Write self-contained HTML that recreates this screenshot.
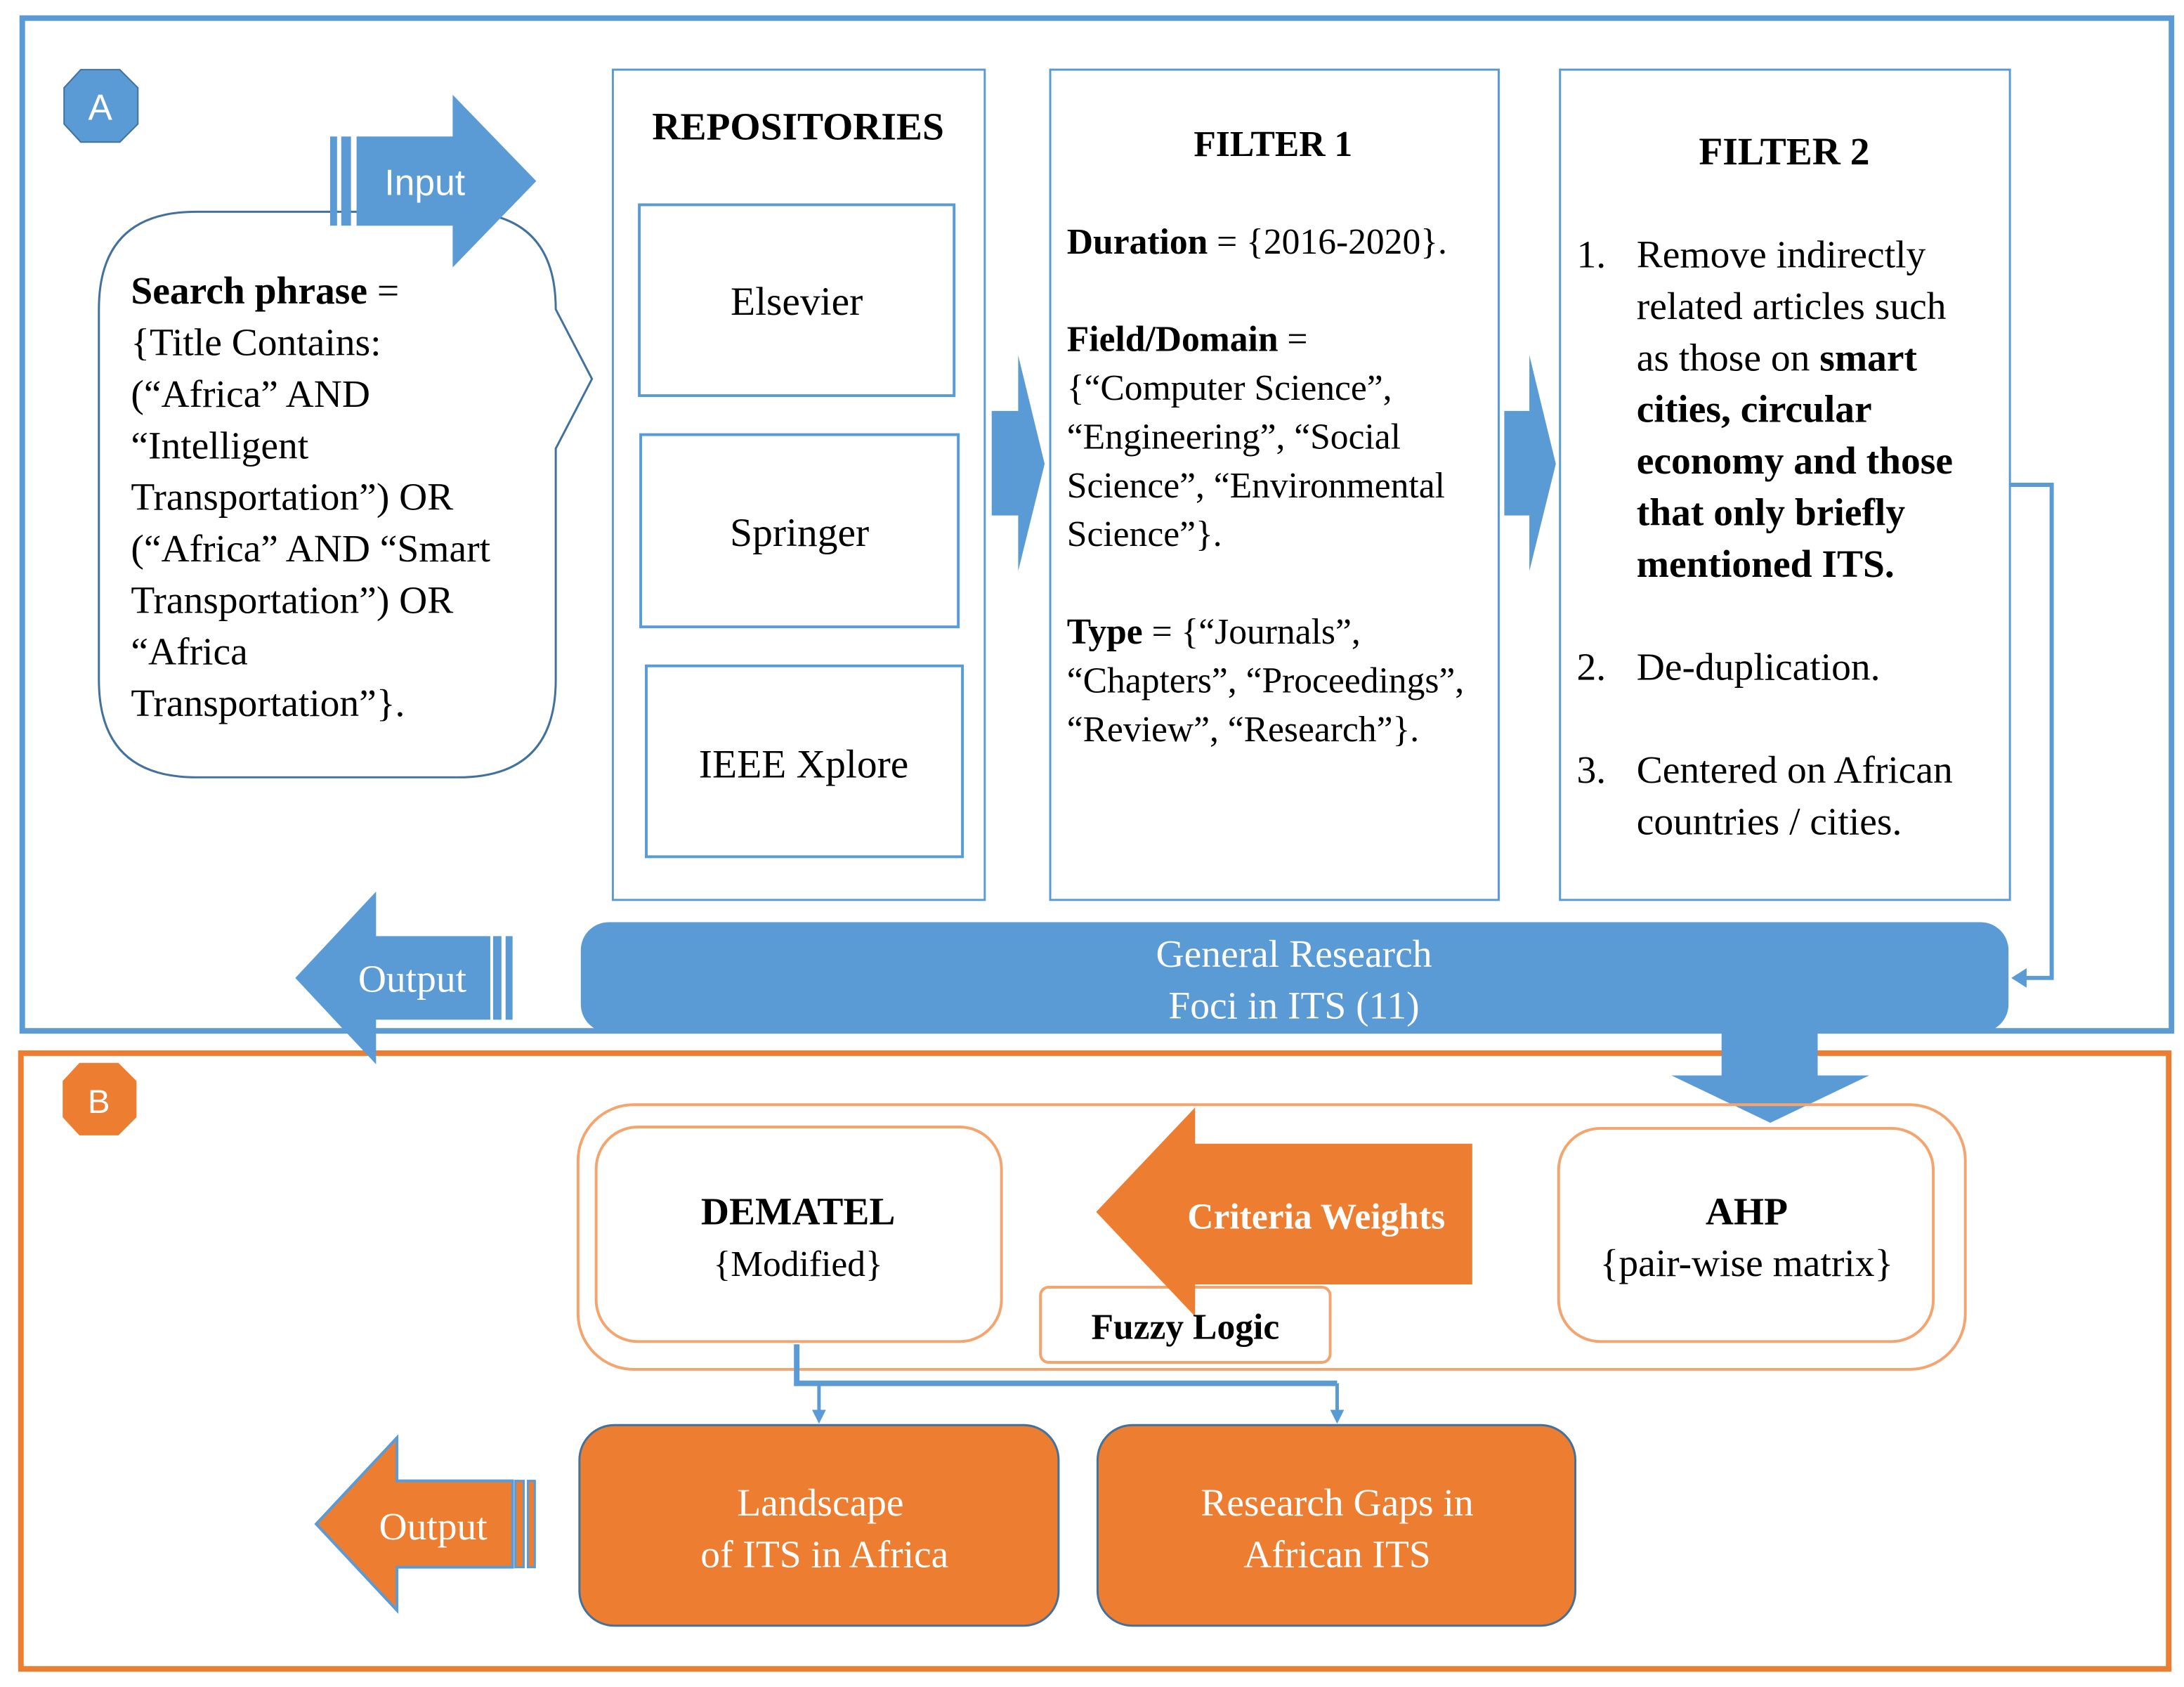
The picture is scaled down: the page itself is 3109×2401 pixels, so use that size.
<!DOCTYPE html>
<html><head><meta charset="utf-8"><style>
html,body{margin:0;padding:0;background:#fff}
svg{display:block}
text{font-family:"Liberation Serif",serif}
</style></head><body>
<svg width="3109" height="2401" viewBox="0 0 1568 1211" preserveAspectRatio="none" xmlns="http://www.w3.org/2000/svg">
<rect width="1568" height="1211" fill="#fff"/>
<!-- outer frames -->
<rect x="16" y="13" width="1543" height="727" fill="none" stroke="#5B9BD5" stroke-width="4"/>
<rect x="15" y="756" width="1542" height="442" fill="none" stroke="#ED7D31" stroke-width="4"/>
<!-- hexagons -->
<polygon points="58,50 86,50 99,63 99,89 86,102 58,102 46,89 46,63" fill="#5B9BD5" stroke="#41719C" stroke-width="1"/>
<text x="72" y="86" text-anchor="middle" font-size="26" fill="#fff" style="font-family:'Liberation Sans',sans-serif">A</text>
<polygon points="57,763 85,763 98,776 98,802 85,815 57,815 45,802 45,776" fill="#ED7D31"/>
<text x="71" y="799" text-anchor="middle" font-size="24" fill="#fff" style="font-family:'Liberation Sans',sans-serif">B</text>

<!-- callout -->
<path d="M141,152 H329 Q399,152 399,222 L425,272 L399,322 V488 Q399,558 329,558 H141 Q71,558 71,488 V222 Q71,152 141,152 Z" fill="#fff" stroke="#41719C" stroke-width="1.5"/>
<g font-size="28" fill="#000">
<text x="94" y="218" font-weight="bold">Search phrase <tspan font-weight="normal">=</tspan></text>
<text x="94" y="255">{Title Contains:</text>
<text x="94" y="292">(“Africa” AND</text>
<text x="94" y="329">“Intelligent</text>
<text x="94" y="366">Transportation”) OR</text>
<text x="94" y="403">(“Africa” AND “Smart</text>
<text x="94" y="440">Transportation”) OR</text>
<text x="94" y="477">“Africa</text>
<text x="94" y="514">Transportation”}.</text>
</g>
<!-- input arrow -->
<rect x="237" y="98" width="5" height="64" fill="#5B9BD5"/>
<rect x="245" y="98" width="7" height="64" fill="#5B9BD5"/>
<polygon points="256,98 325,98 325,68 385,130 325,192 325,162 256,162" fill="#5B9BD5"/>
<text x="305" y="140" text-anchor="middle" font-size="26" fill="#fff" style="font-family:'Liberation Sans',sans-serif">Input</text>

<!-- repositories -->
<rect x="440" y="50" width="267" height="596" fill="#fff" stroke="#5B9BD5" stroke-width="1.5"/>
<text x="573" y="100" text-anchor="middle" font-size="28" font-weight="bold">REPOSITORIES</text>
<rect x="459" y="147" width="226" height="137" fill="#fff" stroke="#5B9BD5" stroke-width="2"/>
<text x="572" y="226" text-anchor="middle" font-size="29">Elsevier</text>
<rect x="460" y="312" width="228" height="138" fill="#fff" stroke="#5B9BD5" stroke-width="2"/>
<text x="574" y="392" text-anchor="middle" font-size="29">Springer</text>
<rect x="464" y="478" width="227" height="137" fill="#fff" stroke="#5B9BD5" stroke-width="2"/>
<text x="577" y="558" text-anchor="middle" font-size="29">IEEE Xplore</text>

<!-- arrow 1 -->
<polygon points="712,295 731,295 731,255 750,333 731,410 731,370 712,370" fill="#5B9BD5"/>
<!-- filter1 -->
<rect x="754" y="50" width="322" height="596" fill="#fff" stroke="#5B9BD5" stroke-width="1.5"/>
<g font-size="26">
<text x="914" y="112" text-anchor="middle" font-weight="bold">FILTER 1</text>
<text x="766" y="182"><tspan font-weight="bold">Duration</tspan> = {2016-2020}.</text>
<text x="766" y="252"><tspan font-weight="bold">Field/Domain</tspan> =</text>
<text x="766" y="287">{“Computer Science”,</text>
<text x="766" y="322">“Engineering”, “Social</text>
<text x="766" y="357">Science”, “Environmental</text>
<text x="766" y="392">Science”}.</text>
<text x="766" y="462"><tspan font-weight="bold">Type</tspan> = {“Journals”,</text>
<text x="766" y="497">“Chapters”, “Proceedings”,</text>
<text x="766" y="532">“Review”, “Research”}.</text>
</g>
<!-- arrow 2 -->
<polygon points="1080,295 1098,295 1098,255 1117,333 1098,410 1098,370 1080,370" fill="#5B9BD5"/>
<!-- filter2 -->
<rect x="1120" y="50" width="323" height="596" fill="#fff" stroke="#5B9BD5" stroke-width="1.5"/>
<g font-size="28">
<text x="1281" y="118" text-anchor="middle" font-weight="bold">FILTER 2</text>
<text x="1132" y="192">1.</text>
<text x="1175" y="192">Remove indirectly</text>
<text x="1175" y="229">related articles such</text>
<text x="1175" y="266">as those on <tspan font-weight="bold">smart</tspan></text>
<text x="1175" y="303" font-weight="bold">cities, circular</text>
<text x="1175" y="340" font-weight="bold">economy and those</text>
<text x="1175" y="377" font-weight="bold">that only briefly</text>
<text x="1175" y="414" font-weight="bold">mentioned ITS.</text>
<text x="1132" y="488">2.</text>
<text x="1175" y="488">De-duplication.</text>
<text x="1132" y="562">3.</text>
<text x="1175" y="562">Centered on African</text>
<text x="1175" y="599">countries / cities.</text>
</g>
<!-- connector -->
<polyline points="1443,348 1473,348 1473,702 1452,702" fill="none" stroke="#5B9BD5" stroke-width="3"/>
<polygon points="1444,702 1455,695 1455,709" fill="#5B9BD5"/>

<!-- banner -->
<rect x="417" y="662" width="1025" height="79" rx="20" fill="#5B9BD5"/>
<text x="929" y="694" text-anchor="middle" font-size="28" fill="#fff">General Research</text>
<text x="929" y="731" text-anchor="middle" font-size="28" fill="#fff">Foci in ITS (11)</text>
<!-- output A -->
<polygon points="212,702 270,640 270,672 352,672 352,732 270,732 270,764" fill="#5B9BD5"/>
<rect x="354" y="672" width="6" height="60" fill="#5B9BD5"/>
<rect x="363" y="672" width="5" height="60" fill="#5B9BD5"/>
<text x="296" y="712" text-anchor="middle" font-size="28" fill="#fff">Output</text>

<!-- down arrow -->
<polygon points="1236,741 1305,741 1305,772 1342,772 1271,806 1200,772 1236,772" fill="#5B9BD5"/>

<!-- orange container -->
<rect x="415" y="793" width="996" height="190" rx="40" fill="none" stroke="#F4A46E" stroke-width="2"/>
<rect x="428" y="809" width="291" height="154" rx="30" fill="#fff" stroke="#F4A46E" stroke-width="2"/>
<text x="573" y="879" text-anchor="middle" font-size="28" font-weight="bold">DEMATEL</text>
<text x="573" y="916" text-anchor="middle" font-size="26">{Modified}</text>
<rect x="1119" y="810" width="269" height="153" rx="30" fill="#fff" stroke="#F4A46E" stroke-width="2"/>
<text x="1254" y="879" text-anchor="middle" font-size="28" font-weight="bold">AHP</text>
<text x="1254" y="916" text-anchor="middle" font-size="28">{pair-wise matrix}</text>
<!-- fuzzy box -->
<rect x="747" y="924" width="208" height="54" rx="6" fill="#fff" stroke="#F4A46E" stroke-width="2"/>
<!-- criteria arrow -->
<polygon points="787,870 858,795 858,821 1057,821 1057,922 858,922 858,945" fill="#ED7D31"/>
<text x="945" y="882" text-anchor="middle" font-size="26" font-weight="bold" fill="#fff">Criteria Weights</text>
<text x="851" y="961" text-anchor="middle" font-size="26" font-weight="bold">Fuzzy Logic</text>

<!-- connectors -->
<polyline points="572,965 572,993 960,993" fill="none" stroke="#5B9BD5" stroke-width="4"/>
<line x1="588" y1="993" x2="588" y2="1014" stroke="#5B9BD5" stroke-width="2.5"/>
<line x1="960" y1="993" x2="960" y2="1014" stroke="#5B9BD5" stroke-width="2.5"/>
<polygon points="583,1012 593,1012 588,1022" fill="#5B9BD5"/>
<polygon points="955,1012 965,1012 960,1022" fill="#5B9BD5"/>

<!-- output boxes -->
<rect x="416" y="1023" width="344" height="144" rx="25" fill="#ED7D31" stroke="#41719C" stroke-width="1.5"/>
<text x="589" y="1088" text-anchor="middle" font-size="28" fill="#fff">Landscape</text>
<text x="592" y="1125" text-anchor="middle" font-size="28" fill="#fff">of ITS in Africa</text>
<rect x="788" y="1023" width="343" height="144" rx="25" fill="#ED7D31" stroke="#41719C" stroke-width="1.5"/>
<text x="960" y="1088" text-anchor="middle" font-size="28" fill="#fff">Research Gaps in</text>
<text x="960" y="1125" text-anchor="middle" font-size="28" fill="#fff">African ITS</text>
<!-- output B -->
<polygon points="227,1094 285,1032 285,1063 368,1063 368,1125 285,1125 285,1156" fill="#ED7D31" stroke="#5B9BD5" stroke-width="2"/>
<rect x="370" y="1063" width="6" height="62" fill="#ED7D31" stroke="#5B9BD5" stroke-width="1.5"/>
<rect x="379" y="1063" width="5" height="62" fill="#ED7D31" stroke="#5B9BD5" stroke-width="1.5"/>
<text x="311" y="1105" text-anchor="middle" font-size="28" fill="#fff">Output</text>
</svg>
</body></html>
